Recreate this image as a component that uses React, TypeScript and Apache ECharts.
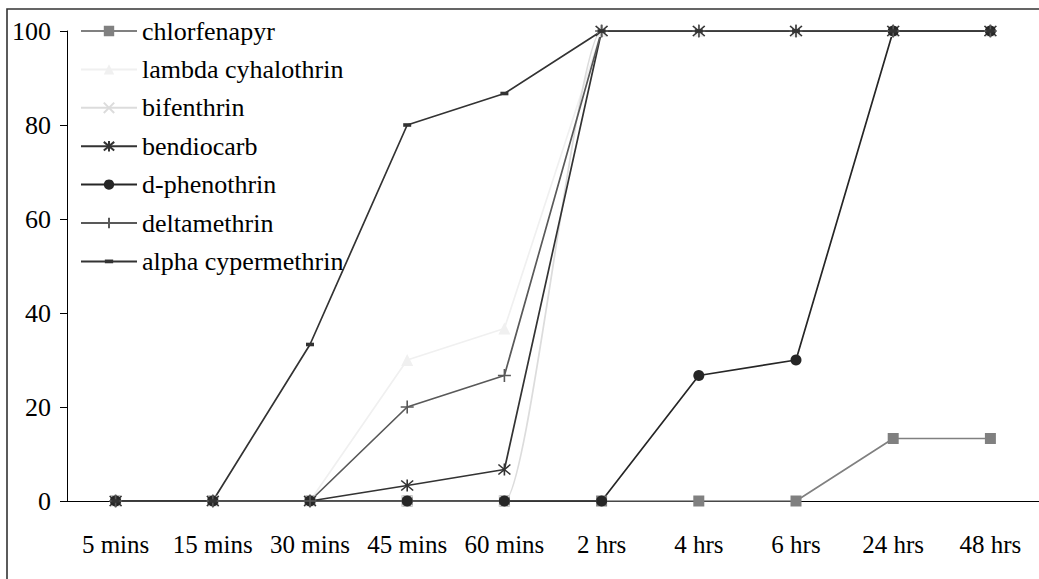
import React, { useEffect, useRef } from "react";
import * as echarts from "echarts";

const categories = ["5 mins", "15 mins", "30 mins", "45 mins", "60 mins", "2 hrs", "4 hrs", "6 hrs", "24 hrs", "48 hrs"];
const chlorfenapyr = [0, 0, 0, 0, 0, 0, 0, 0, 13.3, 13.3];
const lambdaCyhalothrin = [0, 0, 0, 30, 36.7, 100, 100, 100, 100, 100];
const bifenthrin = [0, 0, 0, 0, 0, 100, 100, 100, 100, 100];
const bendiocarb = [0, 0, 0, 3.3, 6.7, 100, 100, 100, 100, 100];
const dPhenothrin = [0, 0, 0, 0, 0, 0, 26.7, 30, 100, 100];
const deltamethrin = [0, 0, 0, 20, 26.7, 100, 100, 100, 100, 100];
const alphaCypermethrin = [0, 0, 33.3, 80, 86.7, 100, 100, 100, 100, 100];
const seriesNames = [
  "chlorfenapyr",
  "lambda cyhalothrin",
  "bifenthrin",
  "bendiocarb",
  "d-phenothrin",
  "deltamethrin",
  "alpha cypermethrin",
];
const yTicks = [0, 20, 40, 60, 80, 100];

const FONT = "'Liberation Serif', 'Times New Roman', 'DejaVu Serif', serif";
const X_PATH = "path://M0,0L10,10M10,0L0,10";
const STAR_PATH = "path://M0,0L10,10M10,0L0,10M5,-1L5,11";
const PLUS_PATH = "path://M5,0L5,10M0,5L10,5";
const DASH_PATH = "path://M0,0M10,10M1,3.2L9,3.2L9,6.8L1,6.8Z";

function mk(name: string, data: number[], color: string, symbol: string, size: any, opts: any = {}) {
  const stroked = symbol.startsWith("path://") && !opts.filled;
  return {
    name,
    type: "line",
    data,
    symbol,
    symbolSize: size,
    smooth: opts.smooth || false,
    lineStyle: { color, width: opts.width || 1.7 },
    itemStyle: stroked
      ? { color: "none", borderColor: color, borderWidth: 1.6 }
      : { color, borderColor: color, borderWidth: 0 },
    emphasis: { disabled: true },
    z: 2,
  };
}

export default function App() {
  const ref = useRef<HTMLDivElement>(null);
  useEffect(() => {
    const chart = echarts.init(ref.current!, null, { renderer: "svg" });
    chart.setOption({
      animation: false,
      backgroundColor: "#ffffff",
      textStyle: { fontFamily: FONT },
      graphic: [
        {
          type: "rect",
          shape: { x: 7, y: 9, width: 1200, height: 800 },
          style: { fill: "none", stroke: "#333333", lineWidth: 1.6 },
          silent: true,
        },
      ],
      grid: { left: 67, top: 31, width: 979, height: 470, containLabel: false },
      legend: {
        orient: "vertical",
        left: 80,
        top: 18,
        padding: 0,
        itemWidth: 56,
        itemHeight: 13,
        itemGap: 12.4,
        selectedMode: false,
        textStyle: { fontFamily: FONT, fontSize: 26, lineHeight: 26, color: "#000" },
        data: seriesNames,
      },
      xAxis: {
        type: "category",
        data: categories,
        boundaryGap: true,
        axisLine: { lineStyle: { color: "#000", width: 1 } },
        axisTick: { length: 7, lineStyle: { color: "#000" } },
        axisLabel: { fontFamily: FONT, fontSize: 25, color: "#000", margin: 31, interval: 0 },
        splitLine: { show: false },
      },
      yAxis: {
        type: "value",
        min: yTicks[0],
        max: yTicks[yTicks.length - 1],
        interval: 20,
        axisLine: { show: true, lineStyle: { color: "#000", width: 1 } },
        axisTick: { show: true, length: 7, lineStyle: { color: "#000" } },
        axisLabel: { fontFamily: FONT, fontSize: 26, color: "#000", margin: 16 },
        splitLine: { show: false },
      },
      series: [
        mk(seriesNames[0], chlorfenapyr, "#808080", "rect", 11),
        mk(seriesNames[1], lambdaCyhalothrin, "#f0f0f0", "triangle", 12),
        mk(seriesNames[2], bifenthrin, "#dcdcdc", X_PATH, 11, { smooth: 0.15 }),
        mk(seriesNames[3], bendiocarb, "#333333", STAR_PATH, 12),
        mk(seriesNames[4], dPhenothrin, "#262626", "circle", 11),
        mk(seriesNames[5], deltamethrin, "#595959", PLUS_PATH, 13),
        mk(seriesNames[6], alphaCypermethrin, "#333333", DASH_PATH, 10, { filled: true }),
      ],
    });
    return () => chart.dispose();
  }, []);
  return (
    <div
      ref={ref}
      style={{ position: "absolute", left: 0, top: 0, width: 1039, height: 579, overflow: "hidden" }}
    />
  );
}
